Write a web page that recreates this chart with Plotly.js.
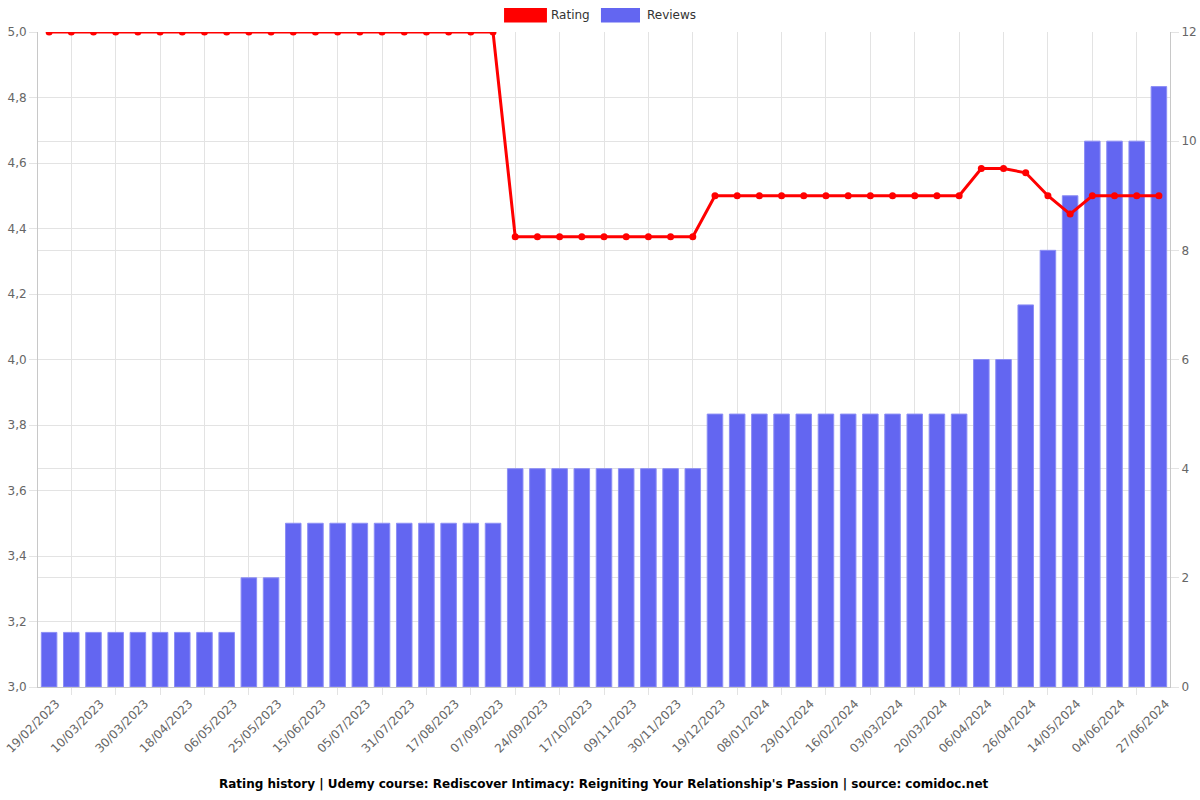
<!DOCTYPE html>
<html>
<head>
<meta charset="utf-8">
<script src="https://cdn.plot.ly/plotly-3.0.1.min.js"></script>
<style>html,body{margin:0;padding:0;background:#fff;}#chart{width:1200px;height:800px;}</style>
</head>
<body>
<div id="chart"></div>
<script>
const dates = [
  "19/02/2023","28/02/2023","10/03/2023","20/03/2023","30/03/2023","09/04/2023","18/04/2023","27/04/2023",
  "06/05/2023","15/05/2023","25/05/2023","05/06/2023","15/06/2023","25/06/2023","05/07/2023","18/07/2023",
  "31/07/2023","08/08/2023","17/08/2023","28/08/2023","07/09/2023","15/09/2023","24/09/2023","05/10/2023",
  "17/10/2023","28/10/2023","09/11/2023","20/11/2023","30/11/2023","09/12/2023","19/12/2023","29/12/2023",
  "08/01/2024","18/01/2024","29/01/2024","07/02/2024","16/02/2024","24/02/2024","03/03/2024","11/03/2024",
  "20/03/2024","29/03/2024","06/04/2024","16/04/2024","26/04/2024","05/05/2024","14/05/2024","25/05/2024",
  "04/06/2024","15/06/2024","27/06/2024"
];
const reviews = [
  1,1,1,1,1,1,1,1,1,
  2,2,
  3,3,3,3,3,3,3,3,3,3,
  4,4,4,4,4,4,4,4,4,
  5,5,5,5,5,5,5,5,5,5,5,5,
  6,6,7,8,9,10,10,10,11
];
const rating = [
  5,5,5,5,5,5,5,5,5,5,5,5,5,5,5,5,5,5,5,5,5,
  4.375,4.375,4.375,4.375,4.375,4.375,4.375,4.375,4.375,
  4.5,4.5,4.5,4.5,4.5,4.5,4.5,4.5,4.5,4.5,4.5,4.5,
  4.583,4.583,4.57,4.5,4.444,4.5,4.5,4.5,4.5
];
const labeledDates = dates.filter((d, i) => i % 2 === 0);
const gridDates = dates.filter((d, i) => i % 2 === 1);

const titleText = "Rating history | Udemy course: Rediscover Intimacy: Reigniting Your Relationship's Passion | source: comidoc.net";
const legendNames = ["Rating", "Reviews"];
const lineColor = "#ff0000";
const barColor = "#6366f1";

const traces = [
  {
    type: "bar", name: legendNames[1], x: dates, y: reviews,
    xaxis: "x", yaxis: "y",
    marker: {color: barColor, line: {color: "#8c8ef5", width: 1}},
    width: 0.7, showlegend: false, hoverinfo: "x+y"
  },
  {
    type: "scatter", mode: "lines+markers", name: legendNames[0], x: dates, y: rating,
    xaxis: "x2", yaxis: "y2",
    line: {color: lineColor, width: 3},
    marker: {color: lineColor, size: 7},
    showlegend: false
  }
];

const gridColor = "#e3e3e3";
const tickFont = {family: "DejaVu Sans", size: 12, color: "#666"};

const layout = {
  width: 1200, height: 800,
  margin: {l: 38, r: 30, t: 32, b: 113},
  paper_bgcolor: "#fff", plot_bgcolor: "#fff",
  separators: ",.",
  font: {family: "DejaVu Sans", size: 12, color: "#666"},
  showlegend: false,
  xaxis: {
    type: "category", categoryorder: "array", categoryarray: dates,
    range: [-0.5, dates.length - 0.5],
    tickvals: labeledDates, ticktext: labeledDates,
    tickangle: -45, tickfont: tickFont,
    ticklabelshift: 7, ticklabelstandoff: 4,
    showgrid: false, ticks: "", showline: true, linecolor: "#c8c8c8", linewidth: 1,
    zeroline: false
  },
  xaxis2: {
    overlaying: "x", anchor: "y", side: "bottom",
    type: "category", categoryorder: "array", categoryarray: dates,
    range: [-0.5, dates.length - 0.5],
    tickvals: gridDates, showticklabels: false,
    showgrid: true, gridcolor: gridColor, gridwidth: 1,
    ticks: "outside", ticklen: 7, tickcolor: gridColor,
    showline: false, zeroline: false
  },
  yaxis: {
    side: "right", range: [0, 12], dtick: 2, tick0: 0,
    showgrid: true, gridcolor: gridColor, zeroline: false,
    ticks: "outside", ticklen: 8, tickcolor: gridColor,
    showline: true, linecolor: "#c8c8c8", tickfont: tickFont
  },
  yaxis2: {
    overlaying: "y", side: "left", anchor: "x", range: [3, 5], dtick: 0.2, tick0: 3,
    tickformat: ".1f",
    showgrid: true, gridcolor: gridColor, zeroline: false,
    ticks: "outside", ticklen: 8, tickcolor: gridColor,
    showline: true, linecolor: "#c8c8c8", tickfont: tickFont
  },
  shapes: [
    {type: "rect", xref: "paper", yref: "paper", x0: 0.4117, x1: 0.4496, y0: 1.0145, y1: 1.0366,
     fillcolor: lineColor, line: {width: 0}},
    {type: "rect", xref: "paper", yref: "paper", x0: 0.4973, x1: 0.5318, y0: 1.0145, y1: 1.0366,
     fillcolor: barColor, line: {width: 0}}
  ],
  annotations: [
    {xref: "paper", yref: "paper", x: 0.4514, y: 1.0255, xanchor: "left", yanchor: "middle",
     text: legendNames[0], showarrow: false, font: {family: "DejaVu Sans", size: 12, color: "#333"}},
    {xref: "paper", yref: "paper", x: 0.5362, y: 1.0255, xanchor: "left", yanchor: "middle",
     text: legendNames[1], showarrow: false, font: {family: "DejaVu Sans", size: 12, color: "#333"}},
    {xref: "paper", yref: "paper", x: 0.5, y: -0.1475, xanchor: "center", yanchor: "middle",
     text: "<b>" + titleText + "</b>", showarrow: false, font: {family: "DejaVu Sans", size: 12, color: "#000"}}
  ]
};

Plotly.newPlot("chart", traces, layout, {displayModeBar: false, staticPlot: true});
</script>
</body>
</html>
